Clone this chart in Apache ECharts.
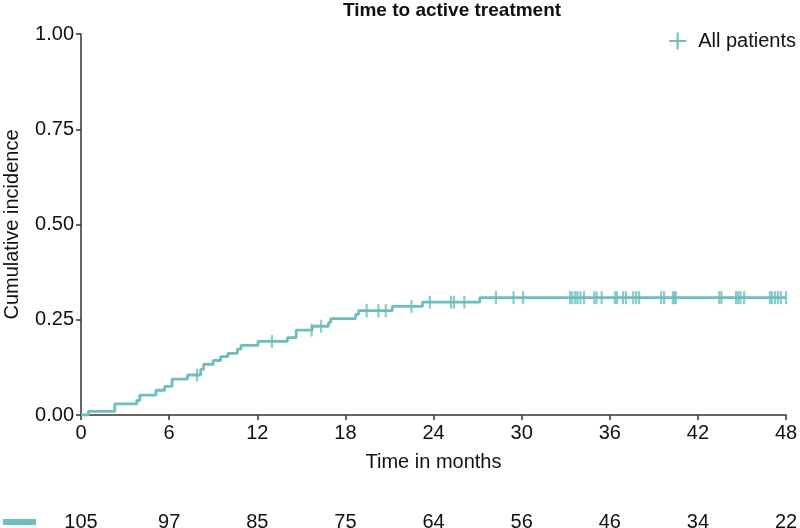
<!DOCTYPE html>
<html>
<head>
<meta charset="utf-8">
<script src="https://cdn.jsdelivr.net/npm/echarts@6/dist/echarts.min.js"></script>
<style>html,body{margin:0;padding:0;background:#fff}#c{width:800px;height:528px}</style>
</head>
<body>
<div id="c"></div>
<script>
// Step function: time (months) at which cumulative incidence changes, and the new value
var stepTimes  = [0, 0.5, 2.3, 3.8, 4.0, 5.1, 5.7, 6.2, 7.25, 8.15, 8.35, 9.0, 9.5, 10.0, 10.65, 10.9, 12.05, 14.05, 14.65, 15.75, 16.85, 17.0, 18.7, 18.9, 21.2, 23.25, 27.15, 48];
var stepValues = [0, 0.0095, 0.029, 0.038, 0.052, 0.065, 0.075, 0.094, 0.105, 0.12, 0.133, 0.143, 0.153, 0.162, 0.173, 0.183, 0.193, 0.203, 0.223, 0.233, 0.243, 0.253, 0.264, 0.274, 0.285, 0.296, 0.308, 0.308];
// Censoring times (months)
var censorTimes = [7.9, 13.0, 15.7, 16.35, 19.45, 20.25, 20.75, 22.5, 23.75, 25.2, 25.4, 26.1, 28.25, 29.45, 30.1,
  33.3, 33.45, 33.65, 33.8, 34.0, 34.25, 34.95, 35.1, 35.45, 36.35, 36.5, 36.9, 37.1, 37.6, 37.8, 38.0,
  39.5, 39.7, 40.3, 40.4, 40.5, 43.45, 43.6, 44.6, 44.75, 44.9, 45.15, 46.9, 47.05, 47.25, 47.45, 47.65, 48.0];
// Number at risk
var riskTimes = [0, 6, 12, 18, 24, 30, 36, 42, 48];
var riskCounts = [105, 97, 85, 75, 64, 56, 46, 34, 22];
var xTicks = [0, 6, 12, 18, 24, 30, 36, 42, 48];
var yTicks = [0, 0.25, 0.5, 0.75, 1.0];

var teal = '#6cbfbf';
var font = 'Liberation Sans, Arial, sans-serif';

function valueAt(t) {
  var v = 0;
  for (var i = 0; i < stepTimes.length; i++) { if (stepTimes[i] <= t) v = stepValues[i]; }
  return v;
}
var lineData = stepTimes.map(function (t, i) { return [t, stepValues[i]]; });
var censorData = censorTimes.map(function (t) { return [t, valueAt(t)]; });
var riskMap = {};
riskTimes.forEach(function (t, i) { riskMap[t] = riskCounts[i]; });

var chart = echarts.init(document.getElementById('c'), null, { renderer: 'canvas' });
chart.setOption({
  animation: false,
  backgroundColor: '#fff',
  title: {
    text: 'Time to active treatment', left: 452, top: 1, padding: 0, textAlign: 'center',
    textStyle: { fontFamily: font, fontSize: 19, fontWeight: 'bold', color: '#111' }
  },
  legend: {
    right: 4, top: 31, padding: 0, itemWidth: 17, itemHeight: 17,
    data: [{ name: 'All patients', icon: 'path://M4.4,0 H5.6 V4.4 H10 V5.6 H5.6 V10 H4.4 V5.6 H0 V4.4 H4.4 Z' }],
    textStyle: { fontFamily: font, fontSize: 20, color: '#111', padding: [0, 0, 0, 7] }
  },
  grid: [
    { left: 81, right: 14, top: 34, bottom: 113, containLabel: false, outerBoundsMode: 'none' },
    { left: 81, right: 14, top: 510, height: 1, containLabel: false, outerBoundsMode: 'none' }
  ],
  xAxis: [{
    type: 'value', min: 0, max: 48, interval: 6, gridIndex: 0,
    name: 'Time in months', nameLocation: 'middle', nameGap: 37,
    nameTextStyle: { fontFamily: font, fontSize: 20, color: '#111' },
    axisLine: { lineStyle: { color: '#333', width: 1.5 } },
    axisTick: { show: true, length: 5, lineStyle: { color: '#333', width: 1.5 } },
    axisLabel: { fontFamily: font, fontSize: 20, color: '#111', margin: 8 },
    splitLine: { show: false }
  }, {
    type: 'value', min: 0, max: 48, interval: 6, gridIndex: 1,
    axisLine: { show: false }, axisTick: { show: false }, splitLine: { show: false },
    axisLabel: { fontFamily: font, fontSize: 20, color: '#111', margin: 1,
      formatter: function (v) { return riskMap[v] !== undefined ? String(riskMap[v]) : ''; } }
  }],
  yAxis: [{
    type: 'value', min: 0, max: 1, interval: 0.25, gridIndex: 0,
    name: 'Cumulative incidence', nameLocation: 'middle', nameGap: 59,
    nameTextStyle: { fontFamily: font, fontSize: 20, color: '#111' },
    axisLine: { show: true, lineStyle: { color: '#333', width: 1.5 } },
    axisTick: { show: true, length: 5, lineStyle: { color: '#333', width: 1.5 } },
    axisLabel: { fontFamily: font, fontSize: 20, color: '#111', margin: 7,
      formatter: function (v) { return v.toFixed(2); } },
    splitLine: { show: false }
  }, {
    type: 'value', min: 0, max: 1, gridIndex: 1, show: false
  }],
  graphic: [{
    type: 'rect', left: 3, top: 519, shape: { width: 33, height: 6 },
    style: { fill: teal }
  }],
  series: [{
    name: 'All patients', type: 'line', step: 'end', xAxisIndex: 0, yAxisIndex: 0,
    data: lineData, showSymbol: false, symbol: 'none', color: teal,
    lineStyle: { color: teal, width: 2.8 }, z: 2
  }, {
    name: 'All patients', type: 'scatter', xAxisIndex: 0, yAxisIndex: 0,
    data: censorData, symbol: 'rect', symbolSize: [2.2, 13], color: teal,
    itemStyle: { color: teal }, z: 3
  }]
});
</script>
</body>
</html>
